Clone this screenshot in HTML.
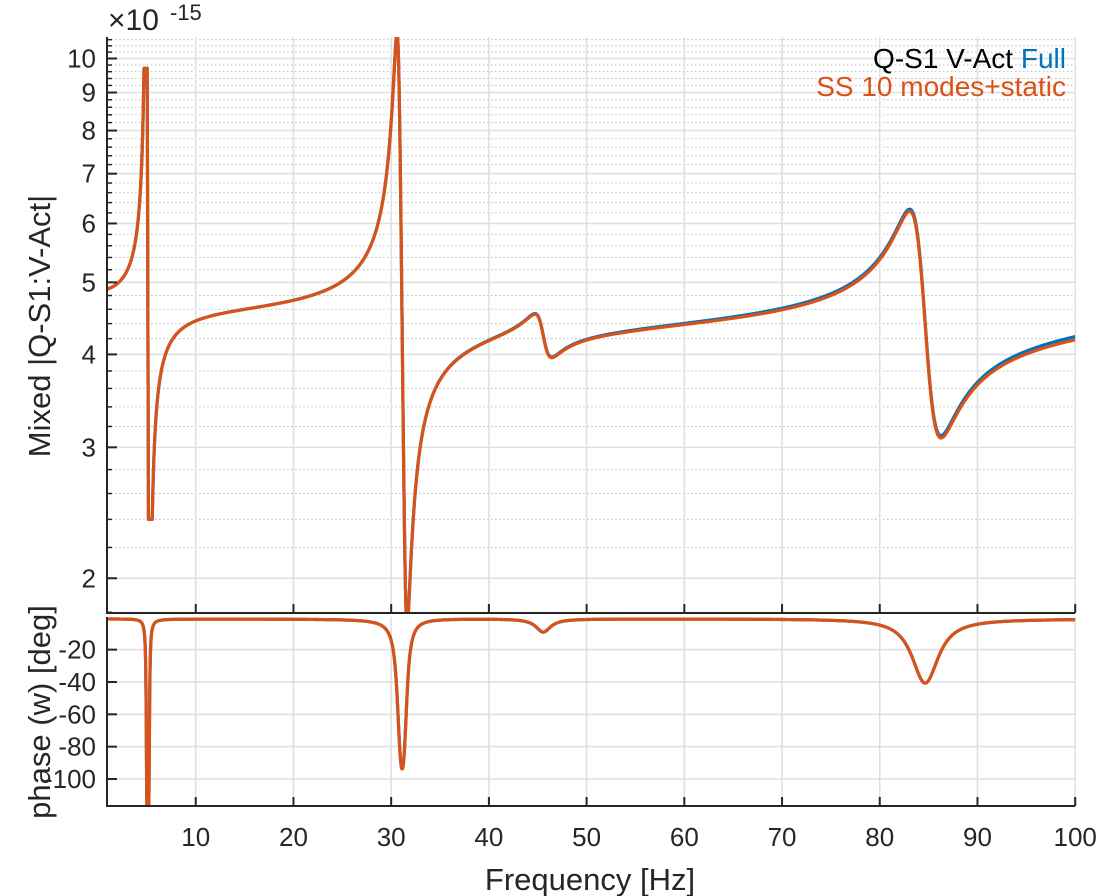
<!DOCTYPE html>
<html><head><meta charset="utf-8"><style>
html,body{margin:0;padding:0;background:#fff;}
svg{display:block;font-family:"Liberation Sans",Arial,sans-serif;}
</style></head><body>
<svg id="s" width="1098" height="896" viewBox="0 0 1098 896" xmlns="http://www.w3.org/2000/svg">
<defs>
<clipPath id="ct"><rect x="107" y="37" width="969" height="576"/></clipPath>
<clipPath id="cb"><rect x="107" y="615" width="969" height="192"/></clipPath>
</defs>
<g id="grid"></g>
<g id="data"></g>
<g id="axes" stroke="#262626" stroke-width="2" fill="none"></g>
<g id="labels" fill="#262626" font-size="26"></g>
<text x="108" y="30" font-size="30" fill="#262626">×10</text>
<text x="170" y="20" font-size="22" fill="#262626">-15</text>
<text x="1066" y="68" font-size="28" text-anchor="end" fill="#000">Q-S1 V-Act <tspan fill="#0072BD">Full</tspan></text>
<text x="1066" y="96" font-size="28" text-anchor="end" fill="#D95319">SS 10 modes+static</text>
<text x="590" y="890" font-size="31" text-anchor="middle" fill="#262626">Frequency [Hz]</text>
<text transform="translate(50,326) rotate(-90)" font-size="31" text-anchor="middle" fill="#262626">Mixed |Q-S1:V-Act|</text>
<text transform="translate(50,712) rotate(-90)" font-size="31" text-anchor="middle" fill="#262626">phase (w) [deg]</text>
</svg>
<script>
var NS="http://www.w3.org/2000/svg";
function el(p,t,a){var e=document.createElementNS(NS,t);for(var k in a)e.setAttribute(k,a[k]);p.appendChild(e);return e;}
function X(f){return 107.8+(f-1)*9.7717;}
function YT(m){return 58.5-(Math.log10(m)-1)*743.6;}
function YB(p){return 617.3-p*1.617;}
var grid=document.getElementById('grid'),axes=document.getElementById('axes'),lab=document.getElementById('labels'),data=document.getElementById('data');
for(var v=1.8;v<=10.61;v+=0.2){var r=Math.round(v*10)/10;if(Math.abs(r-Math.round(r))<1e-6)continue;var y=YT(r);
 el(grid,'line',{x1:107,x2:1075,y1:y,y2:y,stroke:'#bdbdbd','stroke-width':1,'stroke-dasharray':'1.5,2.5'});
 el(axes,'line',{x1:107,x2:112,y1:y,y2:y,'stroke-width':1.5});}
for(var m=2;m<=10;m++){var y=YT(m);el(grid,'line',{x1:107,x2:1075,y1:y,y2:y,stroke:'#dfdfdf','stroke-width':1.5});
 el(axes,'line',{x1:107,x2:117,y1:y,y2:y});
 var t=el(lab,'text',{x:96,y:y+9,'text-anchor':'end'});t.textContent=m;}
for(var f=10;f<=100;f+=10){var x=X(f);
 el(grid,'line',{x1:x,x2:x,y1:37,y2:613,stroke:'#dfdfdf','stroke-width':1.5});
 el(grid,'line',{x1:x,x2:x,y1:617,y2:806,stroke:'#dfdfdf','stroke-width':1.5});
 el(axes,'line',{x1:x,x2:x,y1:613,y2:604});el(axes,'line',{x1:x,x2:x,y1:806,y2:797});
 var t=el(lab,'text',{x:x,y:846,'text-anchor':'middle'});t.textContent=f;}
for(var p=-20;p>=-100;p-=20){var y=YB(p);el(grid,'line',{x1:107,x2:1075,y1:y,y2:y,stroke:'#dfdfdf','stroke-width':1.5});
 el(axes,'line',{x1:107,x2:117,y1:y,y2:y});var t=el(lab,'text',{x:96,y:y+9,'text-anchor':'end'});t.textContent=p;}
el(axes,'polyline',{points:'107,37 107,613 1075,613'});
el(axes,'polyline',{points:'107,617 107,806 1075,806'});
var pairs=[[4.95,0.012,5.25,0.012,1],[30.75,0.012,31.5,0.011,1],[45.5,0.02,45.63,0.02,1],[84.1,0.018,85.2,0.018,1]];
var K=1;
function H(f,hi){var re=K,im=0;
 for(var i=0;i<pairs.length;i++){var P=pairs[i],p=P[0],zp=P[1],z=P[2],zz=P[3];
  var nr=z*z-f*f,ni=2*zz*z*f,dr=p*p-f*f,di=2*zp*p*f;
  var d=dr*dr+di*di;var qr=(nr*dr+ni*di)/d,qi=(ni*dr-nr*di)/d;
  var nm=Math.pow(p*p/(z*z),P[4]);qr*=nm;qi*=nm;var a=re*qr-im*qi,b=re*qi+im*qr;re=a;im=b;}
 var g=(1+0.06*Math.pow(f/100,4))*(1+0.06/(1+Math.exp(-(f-5.1)/0.05)));if(hi)g*=1+0.01*(f/100)*(f/100);re*=g;im*=g;
 var mg=Math.sqrt(re*re+im*im);
 if(f>4&&f<6&&K!==1){mg=Math.min(9.7,Math.max(2.4,mg));}
 return [mg,Math.atan2(im,re)*180/Math.PI];}
K=4.9/H(1,false)[0];
function draw(hi,col){var a='',b='';
 for(var f=1;f<=100;f+=0.01){var h=H(f,hi);a+=(a?'L':'M')+X(f).toFixed(2)+' '+YT(h[0]).toFixed(2);
  b+=(b?'L':'M')+X(f).toFixed(2)+' '+YB(h[1]-1).toFixed(2);}
 el(data,'path',{d:a,stroke:col,'stroke-width':3.2,fill:'none','clip-path':'url(#ct)','stroke-linejoin':'round'});
 el(data,'path',{d:b,stroke:col,'stroke-width':3.2,fill:'none','clip-path':'url(#cb)','stroke-linejoin':'round'});}
draw(true,'#0072BD');draw(false,'#D95319');
</script>
</body></html>
